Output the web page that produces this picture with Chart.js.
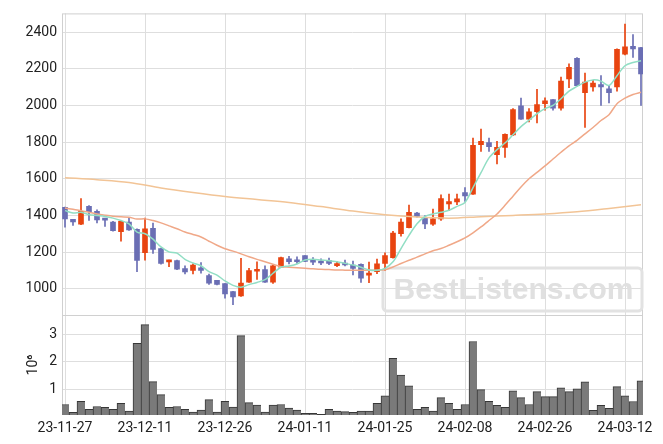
<!DOCTYPE html>
<html>
<head>
<meta charset="utf-8">
<script src="https://cdn.jsdelivr.net/npm/chart.js@4.4.1/dist/chart.umd.min.js"></script>
<style>
html,body{margin:0;padding:0;background:#fff}
canvas{display:block}
</style>
</head>
<body>
<canvas id="chart" width="663" height="444"></canvas>
<script>

// x positions are trading-day indexes, only every 10th day gets a label
const tickIdx=[0,10,20,30,40,50,60,70]
const tickLabels=["23-11-27","23-12-11","23-12-26","24-01-11","24-01-25","24-02-08","24-02-26","24-03-12"]
const priceTicks=[1000,1200,1400,1600,1800,2000,2200,2400]
const volTicks=[1,2,3]

const opens=[1444,1378,1352,1449,1422,1378,1363,1311,1363,1324,1197,1330,1219,1146,1153,1109,1100,1114,1072,1045,1027,984,960,1036,1095,1104,1036,1117,1163,1154,1180,1154,1147,1153,1126,1138,1129,1133,1074,1093,1138,1169,1300,1333,1412,1385,1352,1381,1462,1474,1525,1516,1786,1798,1732,1771,1839,1998,1926,1966,2010,2032,1985,2145,2258,2070,2101,2115,2091,2101,2280,2323,2316]
const closes=[1381,1365,1422,1421,1375,1374,1316,1368,1321,1154,1327,1214,1138,1154,1106,1092,1129,1100,1030,1023,971,955,1030,1099,1104,1036,1124,1169,1147,1147,1149,1144,1140,1138,1136,1129,1111,1057,1077,1135,1180,1304,1363,1417,1394,1354,1381,1492,1476,1490,1506,1782,1804,1775,1771,1843,1978,1926,1966,2005,2025,1985,2133,2209,2108,2128,2122,2101,2070,2307,2321,2309,2172]
const highs=[1446,1379,1492,1453,1431,1379,1368,1370,1390,1326,1385,1358,1221,1156,1156,1124,1135,1142,1079,1046,1028,986,1165,1111,1146,1124,1128,1172,1177,1174,1181,1170,1163,1167,1149,1156,1150,1135,1145,1162,1195,1313,1381,1456,1417,1399,1435,1512,1516,1516,1552,1822,1872,1822,1804,1845,1983,2041,1983,2088,2042,2033,2155,2227,2262,2177,2137,2163,2109,2309,2445,2388,2318]
const lows=[1336,1345,1350,1372,1359,1340,1314,1259,1318,1093,1156,1192,1133,1120,1104,1081,1081,1084,1023,1021,948,912,958,1034,1050,1034,1029,1115,1135,1138,1148,1131,1131,1131,1120,1124,1075,1034,1032,1082,1100,1167,1287,1332,1390,1327,1345,1372,1426,1458,1476,1514,1750,1750,1681,1717,1836,1924,1911,1905,1974,1974,1975,2097,2106,1880,2079,2001,2014,2079,2276,2262,2001]

// volume in millions of shares
const volumes=[0.44,0.16,0.56,0.27,0.37,0.34,0.27,0.48,0.20,2.66,3.34,1.27,0.80,0.34,0.37,0.27,0.17,0.24,0.62,0.17,0.56,0.35,2.94,0.51,0.42,0.17,0.42,0.44,0.31,0.24,0.12,0.12,0.085,0.27,0.20,0.18,0.16,0.20,0.20,0.48,0.76,2.12,1.51,1.12,0.27,0.34,0.20,0.69,0.48,0.27,0.44,2.73,0.98,0.56,0.41,0.34,0.94,0.69,0.44,0.91,0.73,0.73,1.05,0.91,1.01,1.26,0.23,0.41,0.30,1.09,0.76,0.55,1.30]

// moving averages
const ma5=[1426,1413,1417,1404,1399,1394,1385,1372,1354,1309,1300,1270,1228,1201,1194,1160,1140,1125,1093,1074,1042,1018,1008,1022,1034,1049,1084,1117,1124,1135,1156,1160,1156,1153,1147,1138,1129,1117,1102,1100,1111,1147,1219,1291,1354,1394,1408,1417,1428,1449,1471,1552,1633,1714,1759,1795,1840,1885,1920,1956,1983,2001,2037,2079,2104,2128,2140,2133,2109,2163,2217,2235,2244]
const ma20=[1440,1433,1426,1417,1408,1401,1395,1392,1390,1380,1381,1372,1359,1343,1327,1309,1296,1282,1259,1237,1218,1205,1190,1174,1160,1147,1133,1120,1117,1114,1111,1108,1106,1104,1102,1101,1100,1100,1100,1101,1103,1118,1137,1155,1172,1190,1207,1219,1237,1256,1277,1305,1337,1372,1408,1455,1505,1555,1600,1635,1670,1708,1745,1780,1810,1845,1880,1918,1950,2010,2040,2060,2072]
const maLongIdx=[0,4,8,12,16,20,24,28,32,36,40,44,48,52,56,60,64,68,72]
const maLong=[1606,1595,1580,1550,1525,1503,1487,1471,1448,1424,1404,1391,1385,1393,1400,1408,1420,1438,1458]

const upColor="rgb(232,68,16)"
const downColor="rgb(106,110,180)"
const candleColors=opens.map((o,i)=>closes[i]>=o?upColor:downColor)

const tickFont={family:"Roboto",size:14}

const frame={
id:"frame",
beforeDatasetsDraw(chart){
const ctx=chart.ctx
const a=chart.chartArea
const yp=chart.scales.y
ctx.save()
ctx.strokeStyle="#d0d0d0"
ctx.lineWidth=1
ctx.strokeRect(a.left+0.5,a.top+0.5,a.right-a.left-1,a.bottom-a.top-1)
ctx.beginPath()
ctx.moveTo(a.left,Math.round(yp.bottom)+0.5)
ctx.lineTo(a.right,Math.round(yp.bottom)+0.5)
ctx.stroke()
// watermark
const w=259,h=43
const x0=a.right-1-w,y0=yp.bottom-4-h
ctx.strokeStyle="#e2e2e2"
ctx.lineWidth=3
ctx.beginPath()
ctx.roundRect(x0,y0,w,h,4)
ctx.stroke()
ctx.fillStyle="#e0e0e0"
ctx.font="bold 30px 'Liberation Sans', Arial, sans-serif"
ctx.textAlign="center"
ctx.textBaseline="middle"
ctx.fillText("BestListens.com",x0+w/2+1,y0+h/2+1)
ctx.restore()
}
}

new Chart(document.getElementById("chart"),{
data:{
datasets:[
{
type:"line",
data:ma5.map((v,i)=>({x:i,y:v})),
borderColor:"rgb(145,222,196)",
borderWidth:1.5,
pointRadius:0,
tension:0.3,
yAxisID:"y",
order:0
},
{
type:"line",
data:ma20.map((v,i)=>({x:i,y:v})),
borderColor:"rgb(240,168,136)",
borderWidth:1.5,
pointRadius:0,
tension:0.3,
yAxisID:"y",
order:0
},
{
type:"line",
data:maLong.map((v,i)=>({x:maLongIdx[i],y:v})),
borderColor:"rgb(242,196,150)",
borderWidth:1.5,
pointRadius:0,
cubicInterpolationMode:"monotone",
yAxisID:"y",
order:0
},
{
type:"bar",
data:opens.map((o,i)=>({x:i,y:[o,closes[i]]})),
backgroundColor:candleColors,
barThickness:5,
minBarLength:2,
grouped:false,
yAxisID:"y",
order:1
},
{
type:"bar",
data:lows.map((l,i)=>({x:i,y:[l,highs[i]]})),
backgroundColor:candleColors,
barThickness:1,
grouped:false,
yAxisID:"y",
order:2
},
{
type:"bar",
data:volumes.map((v,i)=>({x:i,y:v})),
backgroundColor:"rgb(122,122,122)",
borderColor:"rgb(55,55,55)",
borderWidth:{left:1,top:1,right:0,bottom:0},
borderSkipped:false,
barThickness:8,
grouped:false,
yAxisID:"yv",
order:3
}
]
},
options:{
responsive:false,
animation:false,
devicePixelRatio:1,
layout:{padding:{top:9,right:20,left:0,bottom:0}},
plugins:{legend:{display:false},tooltip:{enabled:false}},
scales:{
x:{
type:"linear",
offset:false,
min:-0.375,
max:72.25,
afterBuildTicks:s=>{s.ticks=tickIdx.map(v=>({value:v}))},
afterFit:s=>{s.height=29},
ticks:{
callback:v=>tickLabels[tickIdx.indexOf(v)],
font:tickFont,
color:"#222",
padding:5,
maxRotation:0,
autoSkip:false
},
grid:{color:"#dedede",drawTicks:false,offset:false},
border:{display:false}
},
yv:{
type:"linear",
position:"left",
stack:"main",
stackWeight:101,
min:0.06,
max:3.69,
afterBuildTicks:s=>{s.ticks=volTicks.map(v=>({value:v}))},
afterFit:s=>{s.width=62},
ticks:{font:tickFont,color:"#222",padding:5,callback:v=>String(v)},
grid:{color:"#dedede",drawTicks:false},
border:{display:false},
title:{display:true,text:"10\u2076",font:tickFont,color:"#222",padding:{top:25,bottom:0}}
},
y:{
type:"linear",
position:"left",
stack:"main",
stackWeight:304.7,
min:856,
max:2503,
afterBuildTicks:s=>{s.ticks=priceTicks.map(v=>({value:v}))},
afterFit:s=>{s.width=62},
ticks:{font:tickFont,color:"#222",padding:5,callback:v=>String(v)},
grid:{color:"#dedede",drawTicks:false},
border:{display:false}
}
}
},
plugins:[frame]
})

</script>
</body>
</html>
